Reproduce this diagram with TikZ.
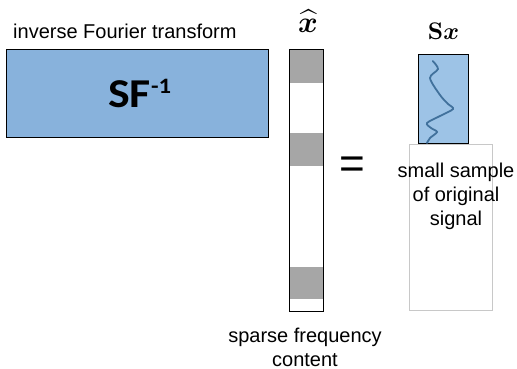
\documentclass[tikz,border=0pt]{standalone}
\usepackage{amsmath,bm}
\usepackage[no-math]{fontspec}
\setmainfont{Liberation Sans}
\newfontfamily\carlito{Carlito}
\definecolor{bigblue}{HTML}{88B2DC}
\definecolor{smallblue}{HTML}{9DC3E6}
\definecolor{wave}{HTML}{41719C}
\definecolor{band}{HTML}{A6A6A6}
\definecolor{lightframe}{HTML}{C8C8C8}
\tikzset{
  blackbox/.style={draw=black, line width=1.4pt},
  label/.style={font=\fontsize{20}{24}\selectfont, align=center, inner sep=0pt},
  mathlabel/.style={inner sep=0pt},
}
\begin{document}
\begin{tikzpicture}[x=1pt,y=-1pt]
\useasboundingbox (0,0) rectangle (517,369);
% big matrix
\node[blackbox, fill=bigblue, minimum width=262pt, minimum height=88pt, inner sep=0pt, anchor=north west] (mat) at (6,49) {};
\node[inner sep=0pt, anchor=base west, xscale=1.12] (sf) at (108,107) {\carlito\bfseries\fontsize{41}{44}\selectfont SF\raisebox{14pt}{\fontsize{22}{24}\selectfont -1}};
\node[label, anchor=base west] (ift) at (13,39) {inverse Fourier transform};
% column vector
\fill[band] (289,49) rectangle (323,83);
\fill[band] (289,133) rectangle (323,166);
\fill[band] (289,267) rectangle (323,299);
\node[blackbox, minimum width=34pt, minimum height=262pt, inner sep=0pt, anchor=north west] (col) at (289,49) {};
\node[mathlabel] (xhat) at (308,21) {\scalebox{3.0}{$\bm{\widehat{x}}$}};
\node[label] (sfc) at (305,347) {sparse frequency\\content};
% equals
\node[inner sep=0pt] (eq) at (352,168) {\fontsize{44}{46}\selectfont =};
% sample
\node[draw=lightframe, line width=0.7pt, minimum width=83pt, minimum height=166pt, inner sep=0pt, anchor=north west] (frame) at (409,144) {};
\node[blackbox, fill=smallblue, minimum width=50pt, minimum height=89pt, inner sep=0pt, anchor=north west] (sx) at (418,54) {};
\draw[wave, line width=1.8pt, line cap=round] plot[smooth, tension=0.5] coordinates {(432.7,61) (438,69) (430,78) (440,95) (448,104) (453,109) (440,116) (427,123) (431,128) (437,132) (430,138) (427,143)};
\node[mathlabel] (sxl) at (443.5,31) {\scalebox{2.4}{$\mathbf{S}\bm{x}$}};
\node[label] (sso) at (456,196) {small sample\\of original\\signal};
\end{tikzpicture}
\end{document}
